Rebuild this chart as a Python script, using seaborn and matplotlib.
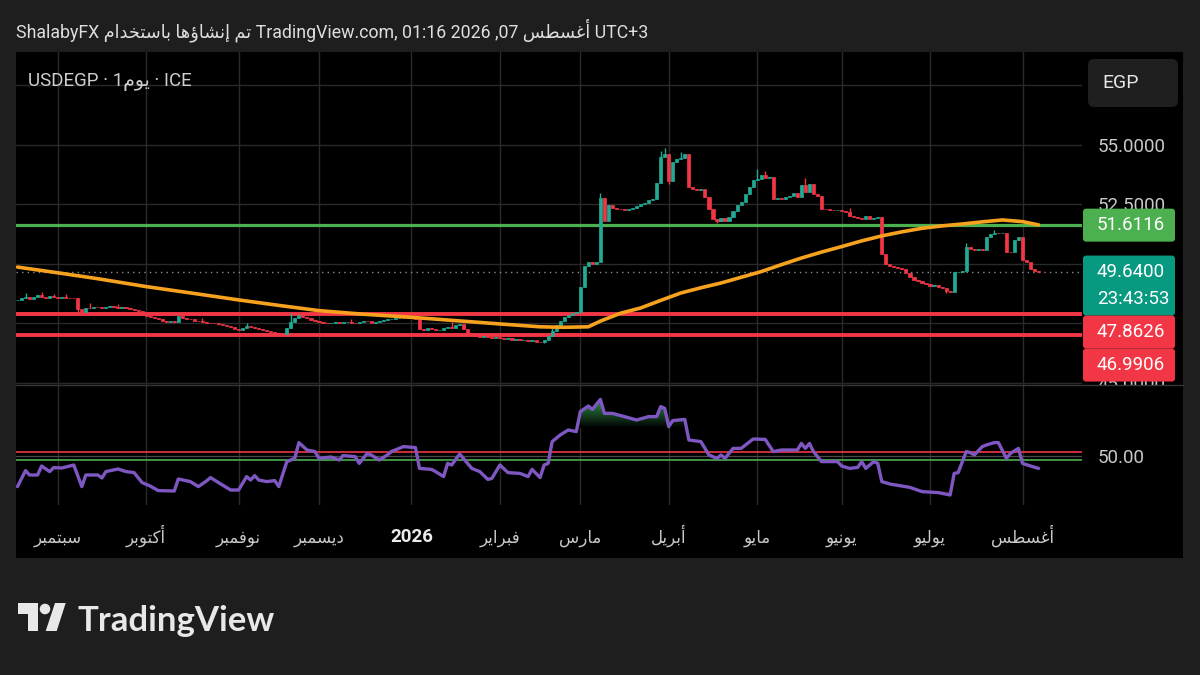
import numpy as np
import pandas as pd
import matplotlib
matplotlib.use('Agg')
import matplotlib.pyplot as plt
import seaborn as sns
from matplotlib.patches import Rectangle, FancyBboxPatch, Circle, Polygon
from matplotlib.path import Path
from matplotlib.colors import LinearSegmentedColormap
from matplotlib.lines import Line2D
from matplotlib.transforms import Bbox, TransformedBbox

# ---- data (USDEGP daily) ----
first_day = '2025-08-18'
first_open = 48.45
closes = [
    48.48, 48.55, 48.60, 48.52, 48.58, 48.66, 48.60, 48.55, 48.62, 48.58, 48.55, 48.60, 48.57, 48.56, 48.55,
    48.10, 47.98,
    48.15, 48.12, 48.18, 48.16, 48.14, 48.17, 48.22, 48.18, 48.15, 48.16, 48.12, 48.10, 48.05, 48.00,
    47.90, 47.80, 47.75, 47.70, 47.65,
    47.60, 47.55, 47.58, 47.55,
    47.78,
    47.72, 47.68, 47.65, 47.60, 47.58, 47.55, 47.52, 47.50, 47.48, 47.45, 47.42, 47.38, 47.35,
    47.25, 47.22, 47.30, 47.38, 47.35,
    47.30, 47.25, 47.20, 47.18, 47.12, 47.10, 47.05, 47.02,
    47.30, 47.55, 47.70, 47.82,
    47.75, 47.70, 47.62, 47.58, 47.55, 47.52, 47.50,
    47.52, 47.55, 47.50, 47.53, 47.56, 47.52, 47.48, 47.55, 47.60, 47.58, 47.52, 47.55, 47.60, 47.62, 47.65,
    47.68, 47.70, 47.72, 47.70,
    47.72, 47.70, 47.68,
    47.25,
    47.22, 47.28, 47.25, 47.20, 47.22, 47.30, 47.32, 47.28, 47.40, 47.46,
    47.25, 47.08,
    46.98, 46.95, 46.92, 46.95, 46.90, 46.88, 46.92, 46.85, 46.82, 46.85, 46.80, 46.82, 46.78, 46.80, 46.75,
    46.78, 46.72, 46.70, 46.80,
    46.95, 47.15, 47.40, 47.60, 47.75, 47.85, 47.92,
    47.95,
    49.00,
    49.90, 50.05, 50.00, 50.06,
    52.75,
    51.80, 52.46,
    52.35, 52.30, 52.28, 52.25, 52.30, 52.32, 52.40, 52.50, 52.55, 52.65,
    52.70, 53.40, 54.47, 54.60, 53.45, 54.25, 54.40, 54.45, 54.60, 53.20,
    53.15, 53.10, 53.12, 52.80, 52.30,
    51.85, 51.80, 51.90, 51.78, 51.95,
    52.20, 52.45, 52.60, 52.90, 53.20, 53.50,
    53.55, 53.70, 53.60, 53.65,
    52.70,
    52.75, 52.70, 52.78, 52.85, 52.95, 52.80,
    53.30, 53.00, 53.35, 52.90,
    52.85, 52.30, 52.28, 52.25, 52.24, 52.26,
    52.20, 52.15, 52.00, 51.95, 51.90, 51.85, 52.00, 51.85, 51.90, 51.95,
    50.40, 50.00,
    49.88, 49.85, 49.80, 49.75, 49.60, 49.45, 49.30,
    49.25, 49.20, 49.15, 49.05, 49.10, 49.00, 48.95, 48.85, 48.82,
    49.64, 49.65, 49.70, 50.70,
    50.60, 50.55, 50.60, 50.55,
    51.10,
    51.25, 51.30, 51.28, 51.30,
    50.50, 50.48, 51.00, 51.12, 50.15, 50.08, 49.78, 49.70, 49.64,
]
# bar numbers below count trading days from 1 Sep 2025
spike_bars = [-8, -4, -1, 2, 8, 15, 31, 36, 47, 58, 73, 84, 98, 123, 135, 150, 151, 155, 174, 176, 186, 197, 226, 233]
spike_highs = [48.78, 48.82, 48.72, 48.70, 48.32, 48.30, 47.88, 47.70, 47.48, 47.92, 47.68, 47.82, 47.55, 47.30,
               52.95, 54.72, 54.85, 54.68, 53.95, 53.88, 53.58, 52.35, 50.85, 51.42]
dip_bars = [5, 29, 56, 121, 130, 152, 164, 221]
dip_lows = [47.90, 47.48, 46.98, 46.66, 47.90, 53.35, 51.72, 48.75]

sma_bars = [-10, 0, 10, 22, 34, 45, 55, 65, 76, 88, 99, 110, 120, 126, 132, 135, 140, 145, 150, 155, 160,
            165, 170, 175, 180, 185, 190, 195, 200, 205, 210, 215, 220, 225, 230, 235, 240, 244]
sma_vals = [49.85, 49.61, 49.36, 49.03, 48.74, 48.47, 48.24, 48.02, 47.87, 47.74, 47.60, 47.46, 47.34, 47.32,
            47.34, 47.58, 47.91, 48.13, 48.45, 48.76, 48.98, 49.18, 49.42, 49.66, 49.95, 50.23, 50.48, 50.71,
            50.95, 51.16, 51.33, 51.48, 51.58, 51.66, 51.75, 51.83, 51.76, 51.62]

rsi_bars = [-10, -8, -7, -5, -4, -2, -1, 1, 4, 6, 7, 10, 11, 12, 15, 17, 19, 21, 23, 25, 29, 30, 33, 35, 37,
            38, 41, 43, 45, 47, 48, 49, 50, 52, 54, 55, 57, 58, 59, 60, 62, 64, 65, 68, 70, 71, 74, 75, 77, 78,
            80, 82, 83, 86, 89, 90, 93, 94, 96, 97, 98, 100, 103, 105, 107, 108, 110, 112, 115, 117, 118, 120,
            121, 122, 123, 125, 127, 129, 130, 132, 133, 135, 136, 138, 141, 144, 147, 149, 150, 151, 152, 153,
            156, 157, 160, 162, 164, 165, 166, 168, 170, 173, 176, 178, 180, 184, 185, 186, 187, 188, 190, 194,
            195, 197, 199, 200, 201, 203, 204, 205, 207, 210, 212, 215, 219, 222, 223, 224, 226, 227, 228, 230,
            231, 233, 234, 236, 237, 239, 240, 242, 244]
rsi_vals = [34.7, 42.7, 40.5, 40.5, 45.0, 42.2, 44.2, 44.0, 45.5, 34.7, 40.5, 40.5, 39.0, 42.2, 43.5, 42.2,
            41.7, 36.7, 35.0, 32.7, 32.5, 38.5, 37.2, 34.7, 37.5, 39.2, 35.5, 33.0, 33.0, 39.7, 38.0, 40.2, 38.0,
            37.2, 37.7, 34.7, 47.2, 48.0, 49.0, 56.7, 53.0, 52.2, 48.8, 49.5, 48.0, 50.2, 49.7, 46.3, 51.3, 50.5,
            48.0, 50.5, 52.2, 54.7, 54.2, 43.8, 43.3, 42.2, 39.7, 46.3, 45.5, 51.0, 43.8, 42.2, 38.3, 38.8, 45.5,
            41.7, 41.3, 39.7, 43.3, 39.2, 45.5, 46.3, 57.2, 60.5, 63.0, 62.2, 72.2, 75.0, 73.3, 78.3, 71.3, 71.3,
            69.7, 68.0, 69.7, 69.7, 74.7, 73.8, 64.7, 67.7, 68.3, 58.0, 57.2, 50.5, 48.8, 50.5, 48.8, 53.8, 53.8,
            58.5, 58.3, 52.2, 53.0, 53.0, 56.3, 53.8, 56.3, 52.2, 47.2, 47.2, 45.0, 43.8, 44.3, 47.2, 43.8, 47.2,
            46.3, 37.2, 36.0, 35.0, 34.3, 32.2, 31.7, 30.5, 41.3, 41.7, 52.2, 51.7, 50.5, 54.7, 55.5, 56.7, 56.7,
            48.8, 51.3, 53.8, 46.3, 45.0, 43.8]

resistance = 51.6116
supports = [47.8626, 46.9906]
last_price = 49.64
countdown = '23:43:53'
price_ticks = [45.0, 47.5, 50.0, 52.5, 55.0, 57.5]
rsi_upper, rsi_mid, rsi_lower = 52.2, 50.0, 48.0
month_names = {2: 'فبراير', 3: 'مارس', 4: 'أبريل', 5: 'مايو', 6: 'يونيو', 7: 'يوليو',
               8: 'أغسطس', 9: 'سبتمبر', 10: 'أكتوبر', 11: 'نوفمبر', 12: 'ديسمبر'}

# ---- Arabic shaping (matplotlib draws glyphs left to right, unshaped) ----
AR = {
    'ا': ('\ufe8d', '\ufe8e', None, None), 'أ': ('\ufe83', '\ufe84', None, None),
    'إ': ('\ufe87', '\ufe88', None, None), 'ؤ': ('\ufe85', '\ufe86', None, None),
    'ب': ('\ufe8f', '\ufe90', '\ufe91', '\ufe92'), 'ت': ('\ufe95', '\ufe96', '\ufe97', '\ufe98'),
    'خ': ('\ufea5', '\ufea6', '\ufea7', '\ufea8'), 'د': ('\ufea9', '\ufeaa', None, None),
    'ر': ('\ufead', '\ufeae', None, None), 'س': ('\ufeb1', '\ufeb2', '\ufeb3', '\ufeb4'),
    'ش': ('\ufeb5', '\ufeb6', '\ufeb7', '\ufeb8'), 'ط': ('\ufec1', '\ufec2', '\ufec3', '\ufec4'),
    'غ': ('\ufecd', '\ufece', '\ufecf', '\ufed0'), 'ف': ('\ufed1', '\ufed2', '\ufed3', '\ufed4'),
    'ك': ('\ufed9', '\ufeda', '\ufedb', '\ufedc'), 'ل': ('\ufedd', '\ufede', '\ufedf', '\ufee0'),
    'م': ('\ufee1', '\ufee2', '\ufee3', '\ufee4'), 'ن': ('\ufee5', '\ufee6', '\ufee7', '\ufee8'),
    'ه': ('\ufee9', '\ufeea', '\ufeeb', '\ufeec'), 'و': ('\ufeed', '\ufeee', None, None),
    'ي': ('\ufef1', '\ufef2', '\ufef3', '\ufef4'),
}


def ar(text):
    out = []
    for k, ch in enumerate(text):
        f = AR.get(ch)
        if f is None:
            out.append(ch)
            continue
        prev = text[k - 1] if k > 0 else ''
        nxt = text[k + 1] if k + 1 < len(text) else ''
        jp = prev in AR and AR[prev][2] is not None
        jn = nxt in AR and f[2] is not None
        if jp and jn:
            out.append(f[3])
        elif jp:
            out.append(f[1])
        elif jn:
            out.append(f[2])
        else:
            out.append(f[0])
    return ''.join(out)[::-1]


# ---- style ----
sns.set_style('dark', rc={'axes.facecolor': '#000000', 'figure.facecolor': '#1e1e1e'})
plt.rcParams['font.family'] = ['Roboto', 'DejaVu Sans']

W, H = 1200, 675
fig = plt.figure(figsize=(W / 100, H / 100), dpi=100)
fig.add_artist(Rectangle((16 / W, 1 - 558 / H), (1183 - 16) / W, (558 - 52) / H,
                         transform=fig.transFigure, fc='#000000', ec='none', zorder=-5))

ax_p = fig.add_axes([16 / W, 1 - 385 / H, (1082 - 16) / W, (385 - 52) / H])
ax_r = fig.add_axes([16 / W, 1 - 505 / H, (1082 - 16) / W, (505 - 385) / H])

dates = pd.bdate_range(first_day, periods=len(closes))
sep_start = dates.get_loc(pd.Timestamp('2025-09-01'))
pos = np.arange(len(closes))
c = np.array(closes)
o = np.r_[first_open, c[:-1]]
hi = np.maximum(o, c)
lo = np.minimum(o, c)
sb = np.array(spike_bars) + sep_start
db = np.array(dip_bars) + sep_start
hi[sb] = np.maximum(hi[sb], spike_highs)
lo[db] = np.minimum(lo[db], dip_lows)
col = np.where(c >= o, '#22ab94', '#f23645')

month_pos = [p for p in range(1, len(dates)) if dates[p].month != dates[p - 1].month]
month_lbl = [str(dates[p].year) if dates[p].month == 1 else ar(month_names[dates[p].month]) for p in month_pos]

xlim = (-0.37, 264.8)
grid_c = '#2a2a2a'

for ax in (ax_p, ax_r):
    ax.set_facecolor('#000000')
    for s in ax.spines.values():
        s.set_visible(False)
    ax.set_xticks(month_pos)
    ax.grid(axis='x', color=grid_c, lw=1)
    ax.yaxis.tick_right()

# price pane
ax_p.grid(axis='y', color=grid_c, lw=1)
ax_p.axhline(resistance, color='#4caf50', lw=2.3, zorder=2)
for lv in supports:
    ax_p.axhline(lv, color='#f23645', lw=2.8, zorder=2)
ax_p.axhline(last_price, color='#8c8c8c', lw=1, ls=(0, (1, 3)), zorder=2)

ax_p.vlines(pos, lo, hi, colors=col, lw=1.0, zorder=3)
ax_p.bar(pos, np.abs(c - o), bottom=np.minimum(o, c), width=0.78,
         color=col, edgecolor=col, linewidth=0.5, zorder=3)
sns.lineplot(x=np.array(sma_bars) + sep_start, y=sma_vals, ax=ax_p, color='#f7a21f', lw=2.6,
             sort=False, zorder=4)

ax_p.set_xlim(*xlim)
ax_p.set_ylim(44.895, 58.887)
ax_p.set_xlabel('')
ax_p.set_ylabel('')
ax_p.tick_params(axis='x', length=0, labelbottom=False)
ax_p.tick_params(axis='y', length=0, pad=11, labelsize=13.5, labelcolor='#c9c9c9')

# RSI pane
rx = np.array(rsi_bars) + sep_start
ry = np.array(rsi_vals)
ax_r.axhline(rsi_upper, color='#f23645', lw=1.2, zorder=2)
ax_r.axhline(rsi_lower, color='#4caf50', lw=1.2, zorder=2)
fb = ax_r.fill_between(rx, ry, 64, where=ry > 64, interpolate=True, facecolor='none', edgecolor='none')
clip = Path.make_compound_path(*fb.get_paths())
grad = ax_r.imshow(np.linspace(0, 1, 64).reshape(-1, 1), extent=(xlim[0], xlim[1], 64, 78), origin='lower',
                   aspect='auto', cmap=LinearSegmentedColormap.from_list('ob', ['#000000', '#2f8c46']), zorder=1)
grad.set_clip_path(clip, ax_r.transData)
ax_r.fill_between(rx, ry, 32.5, where=ry < 32.5, interpolate=True, color='#3a1212', lw=0, zorder=1)
sns.lineplot(x=rx, y=ry, ax=ax_r, color='#7e57c2', lw=2.4, sort=False, zorder=3)
ax_r.set_xlim(*xlim)
ax_r.set_ylim(25.5, 85.5)
ax_r.set_yticks([rsi_mid])
ax_r.set_yticklabels(['50.00'])
ax_r.grid(axis='y', color='#4a4a4a', lw=0.9)
ax_r.set_xticklabels(month_lbl)
ax_r.tick_params(axis='x', length=0, pad=27, labelsize=12, labelcolor='#c9c9c9')
ax_r.tick_params(axis='y', length=0, pad=11, labelsize=13.5, labelcolor='#c9c9c9')
for t in ax_r.get_xticklabels():
    t.set_verticalalignment('baseline')
    if t.get_text().isdigit():
        t.set_fontweight('bold')
        t.set_fontsize(13.5)
        t.set_color('#ececec')
ax_r.set_xlabel('')
ax_r.set_ylabel('')

# pane separator
fig.add_artist(Line2D([16 / W, 1183 / W], [1 - 385 / H, 1 - 385 / H], transform=fig.transFigure,
                      color='#363636', lw=1, zorder=2))


# ---- price-scale labels ----
def box(x0, top, x1, bot, color, r=3):
    fig.add_artist(FancyBboxPatch((x0 / 100, (H - bot) / 100), (x1 - x0) / 100, (bot - top) / 100,
                                  boxstyle=f'round,pad=0,rounding_size={r / 100}', transform=fig.dpi_scale_trans,
                                  fc=color, ec='none', zorder=5))


ax_p.set_yticks(price_ticks)
fig.canvas.draw()
covered = [(59, 107)]  # EGP box
labels = [(resistance, '#4caf50', [f'{resistance:.4f}']),
          (last_price, '#089981', [f'{last_price:.4f}', countdown])]
labels += [(lv, '#f23645', [f'{lv:.4f}']) for lv in supports]
prev_bot = 0
for val, color, lines in labels:
    yc = H - ax_p.transData.transform((0, val))[1]
    top = max(yc - 16.5, prev_bot)
    bot = top + (33 if len(lines) == 1 else 60)
    box(1083, top, 1175, bot, color)
    for k, s in enumerate(lines):
        fig.text(1097 / W, 1 - (top + 16.5 + 27 * k) / H, s, ha='left', va='center', fontsize=13.5,
                 color='#ffffff', zorder=6)
    covered.append((top, bot))
    prev_bot = bot

# price labels hidden behind the badges are left blank, the rest clipped to the pane
tick_txt = []
for t in price_ticks:
    yc = H - ax_p.transData.transform((0, t))[1]
    tick_txt.append('' if any(a <= yc <= b for a, b in covered) else f'{t:.4f}')
ax_p.set_yticklabels(tick_txt)
pane = TransformedBbox(Bbox.from_extents(16 / W, 1 - 385 / H, 1183 / W, 1 - 52 / H), fig.transFigure)
for tk in ax_p.yaxis.get_major_ticks():
    tk.label2.set_clip_box(pane)
    tk.label2.set_clip_on(True)

box(1088, 59, 1178, 107, '#1f1f1f', r=6)
fig.text(1102 / W, 1 - 83 / H, 'EGP', ha='left', va='center', fontsize=14, color='#e6e6e6', zorder=6)

# ---- header & titles ----
header = ('ShalabyFX ' + ar('تم إنشاؤها باستخدام') + ' TradingView.com, 01:16 2026 ,07 '
          + ar('أغسطس') + ' UTC+3')
fig.text(16 / W, 1 - 30 / H, header, ha='left', va='center', fontsize=12.8, color='#dedede')
fig.text(28 / W, 1 - 82 / H, 'USDEGP · 1' + ar('يوم') + ' · ICE', ha='left', va='center',
         fontsize=13.5, color='#cfcfcf', zorder=6)

# ---- TradingView logo ----
lc = '#e8e8e8'
for xy in ([(18, 603), (38, 603), (38, 631), (28, 631), (28, 614), (18, 614)],
           [(45.7, 631), (56.7, 631), (65.7, 603), (55, 603)]):
    fig.add_artist(Polygon([(x / 100, (H - y) / 100) for x, y in xy], closed=True,
                           transform=fig.dpi_scale_trans, fc=lc, ec='none'))
fig.add_artist(Circle((45 / 100, (H - 609) / 100), 5.3 / 100, transform=fig.dpi_scale_trans, fc=lc, ec='none'))
fig.text(77 / W, 1 - 631 / H, 'TradingView', ha='left', va='baseline', fontsize=25,
         family='Lato', fontweight='bold', color=lc)

fig.savefig('out.png', dpi=100, facecolor=fig.get_facecolor())
